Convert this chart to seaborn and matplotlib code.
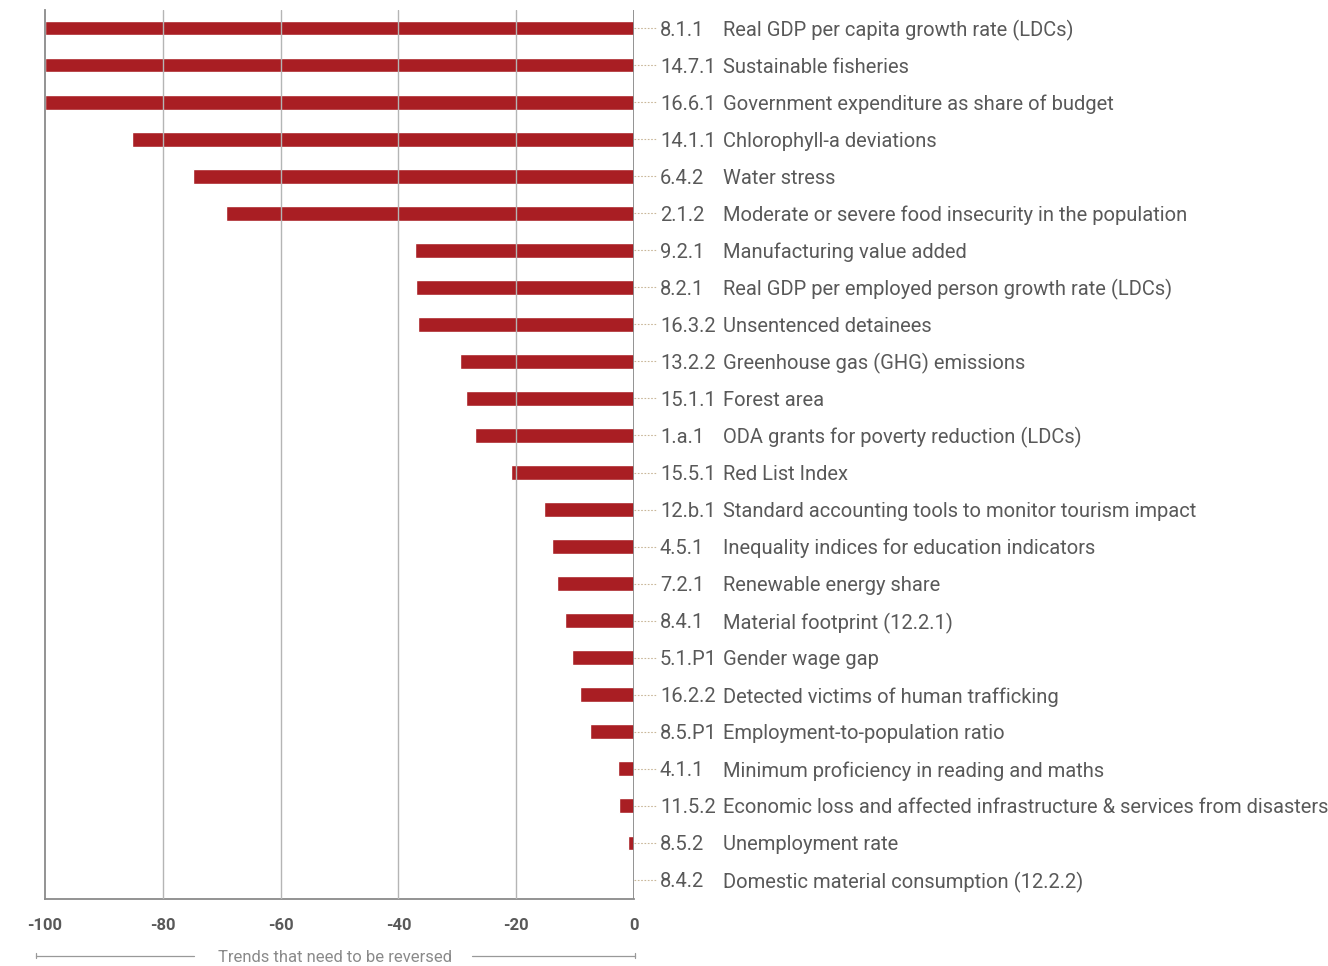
import matplotlib
matplotlib.use('Agg')
import matplotlib.pyplot as plt
import matplotlib.transforms as mtransforms
import seaborn as sns
import pandas as pd

# Indicator codes, descriptions and trend scores
codes = ['8.1.1', '14.7.1', '16.6.1', '14.1.1', '6.4.2', '2.1.2', '9.2.1', '8.2.1',
         '16.3.2', '13.2.2', '15.1.1', '1.a.1', '15.5.1', '12.b.1', '4.5.1', '7.2.1',
         '8.4.1', '5.1.P1', '16.2.2', '8.5.P1', '4.1.1', '11.5.2', '8.5.2', '8.4.2']
descriptions = [
    'Real GDP per capita growth rate (LDCs)',
    'Sustainable fisheries',
    'Government expenditure as share of budget',
    'Chlorophyll-a deviations',
    'Water stress',
    'Moderate or severe food insecurity in the population',
    'Manufacturing value added',
    'Real GDP per employed person growth rate (LDCs)',
    'Unsentenced detainees',
    'Greenhouse gas (GHG) emissions',
    'Forest area',
    'ODA grants for poverty reduction (LDCs)',
    'Red List Index',
    'Standard accounting tools to monitor tourism impact',
    'Inequality indices for education indicators',
    'Renewable energy share',
    'Material footprint (12.2.1)',
    'Gender wage gap',
    'Detected victims of human trafficking',
    'Employment-to-population ratio',
    'Minimum proficiency in reading and maths',
    'Economic loss and affected infrastructure & services from disasters',
    'Unemployment rate',
    'Domestic material consumption (12.2.2)',
]
scores = [-100, -100, -100, -85.2, -74.9, -69.3, -37.2, -37.0, -36.7, -29.5, -28.5,
          -27.0, -20.9, -15.3, -13.9, -13.1, -11.7, -10.5, -9.2, -7.5, -2.7, -2.5,
          -1.0, -0.2]
xticks = [-100, -80, -60, -40, -20, 0]
axis_caption = 'Trends that need to be reversed'

df = pd.DataFrame({'code': codes, 'desc': descriptions, 'score': scores})

sns.set_style('white')
plt.rcParams['font.family'] = ['Roboto', 'DejaVu Sans']

bar_color = '#A91E23'
text_color = '#595959'

fig = plt.figure(figsize=(13.28, 9.66), dpi=100)
ax = fig.add_axes([45 / 1328, 1 - 898.5 / 966, 589 / 1328, 889 / 966])

sns.barplot(data=df, x='score', y='code', order=codes, orient='h',
            color=bar_color, saturation=1, width=0.4, ax=ax, zorder=1)

ax.set_xlim(-100, 0)
ax.set_ylim(len(codes) - 0.5, -0.5)
ax.set_xticks(xticks)
ax.set_xticklabels([str(t) for t in xticks], fontsize=12, fontweight='bold',
                   color=text_color)
ax.tick_params(axis='x', length=0, pad=14)
ax.set_yticks([])
ax.set_xlabel('')
ax.set_ylabel('')

# gridlines drawn above the bars
for t in xticks[1:-1]:
    ax.axvline(t, color='#b5b5b5', lw=1, zorder=3)
ax.axvline(0, color='#8a8a8a', lw=1.3, zorder=4)

for side in ['top', 'right']:
    ax.spines[side].set_visible(False)
for side in ['left', 'bottom']:
    ax.spines[side].set_color('#8a8a8a')
    ax.spines[side].set_linewidth(1.3)

# labels on the right with dotted leaders
trans = mtransforms.blended_transform_factory(ax.transAxes, ax.transData)
for i, (c, d) in enumerate(zip(codes, descriptions)):
    ax.plot([1.0, 1.038], [i, i], transform=trans, clip_on=False,
            ls=(0, (1.5, 1.5)), lw=0.8, color='#c9b79a')
    ax.text(1.044, i, c, transform=trans, va='center_baseline', ha='left',
            fontsize=14.5, color=text_color)
    ax.text(1.151, i, d, transform=trans, va='center_baseline', ha='left',
            fontsize=14.5, color=text_color)

# caption under the axis with bracket lines
cap_y = 1 - 955.5 / 966
fig.text(335 / 1328, cap_y, axis_caption, ha='center', va='center_baseline',
         fontsize=12, color='#8a8a8a')
for x0, x1 in [(36, 194), (472, 635)]:
    fig.add_artist(plt.Line2D([x0 / 1328, x1 / 1328], [cap_y, cap_y],
                              color='#999999', lw=0.9))
for xe in [36, 635]:
    fig.add_artist(plt.Line2D([xe / 1328, xe / 1328], [cap_y - 2.5 / 966, cap_y + 2.5 / 966],
                              color='#999999', lw=0.9))

fig.savefig('out.png', dpi=100)
